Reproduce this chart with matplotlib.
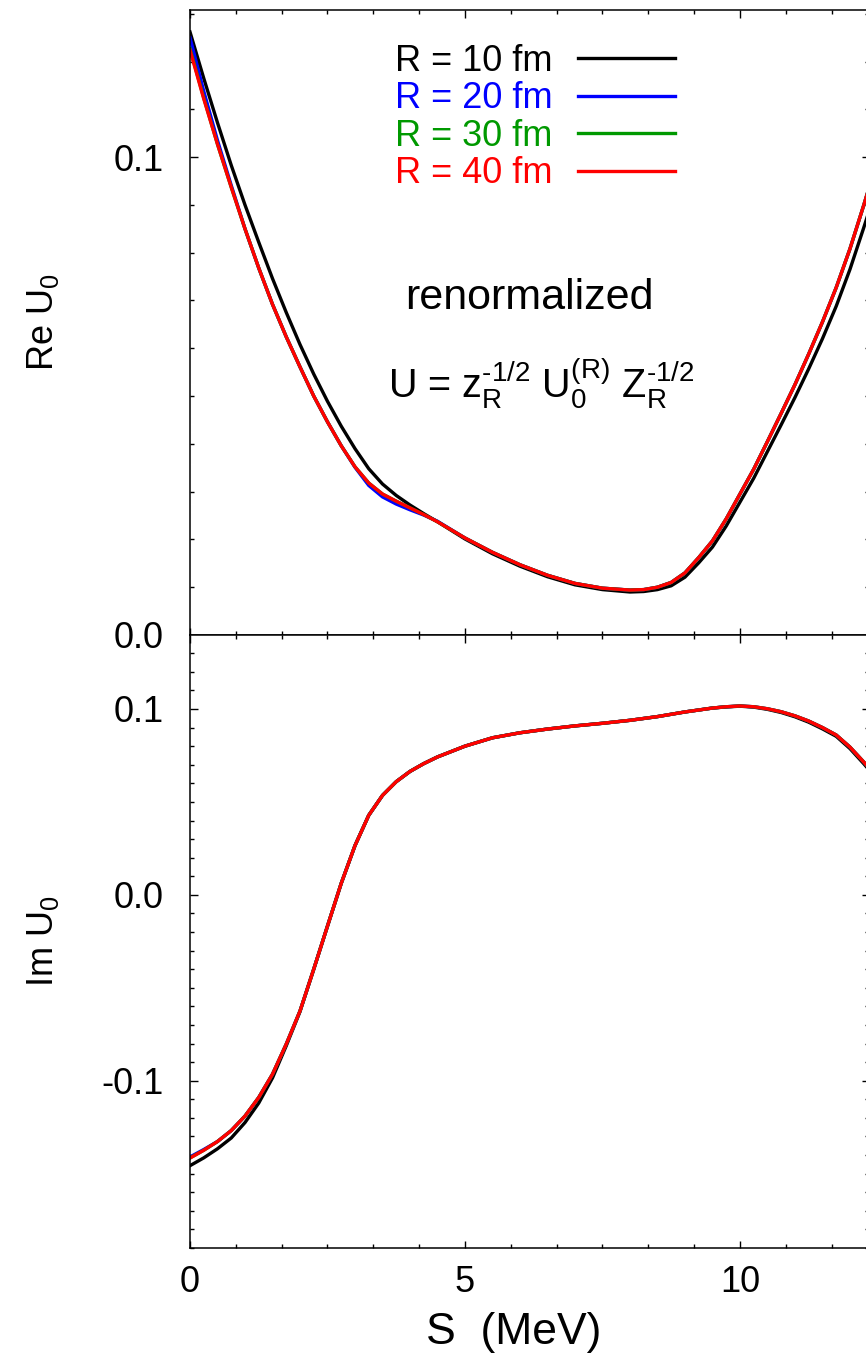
import numpy as np
import matplotlib
matplotlib.use("Agg")
import matplotlib.pyplot as plt
from matplotlib.ticker import MultipleLocator, FormatStrFormatter

plt.rcParams['font.family'] = ['Liberation Sans', 'DejaVu Sans']
plt.rcParams['mathtext.fontset'] = 'custom'
plt.rcParams['mathtext.rm'] = 'Liberation Sans'
plt.rcParams['mathtext.default'] = 'regular'
plt.rcParams['axes.unicode_minus'] = False

# S (MeV) grid of the upper panel
s_re = [0.0, 0.25, 0.5, 0.75, 1.0, 1.25, 1.5, 1.75, 2.0, 2.25, 2.5, 2.75, 3.0, 3.25,
        3.5, 3.75, 4.0, 4.25, 4.5,
        5.0, 5.5, 6.0, 6.5, 7.0, 7.5, 8.0,
        8.25, 8.5, 8.75, 9.0, 9.25, 9.5, 9.75, 10.0, 10.25, 10.5, 10.75, 11.0, 11.25,
        11.5, 11.75, 12.0, 12.25, 12.4]

re_r40 = [0.1224, 0.1122, 0.1027, 0.0937, 0.0850, 0.0768, 0.0692, 0.0624, 0.0561, 0.0500,
          0.0446, 0.0396, 0.0352, 0.0318, 0.0295, 0.0280, 0.0266, 0.0252, 0.0237,
          0.0203, 0.0173, 0.0147, 0.0125, 0.0108, 0.0098, 0.0094,
          0.0095, 0.0100, 0.0110, 0.0130, 0.0162, 0.0197, 0.0243, 0.0295, 0.0347, 0.0405,
          0.0464, 0.0524, 0.0588, 0.0655, 0.0727, 0.0808, 0.0899, 0.0956]
re_r10 = [0.1262, 0.1165, 0.1072, 0.0983, 0.0900, 0.0822, 0.0746, 0.0675, 0.0608, 0.0546,
          0.0489, 0.0437, 0.0390, 0.0348, 0.0316, 0.0292, 0.0272, 0.0254, 0.0237,
          0.0201, 0.0170, 0.0144, 0.0122, 0.0105, 0.0095, 0.0090,
          0.0091, 0.0095, 0.0103, 0.0121, 0.0151, 0.0184, 0.0228, 0.0278, 0.0328, 0.0384,
          0.0440, 0.0497, 0.0557, 0.0620, 0.0688, 0.0765, 0.0852, 0.0906]
# R = 20 and 30 fm only differ from R = 40 fm below ~4.5 MeV
re_r20 = [0.1250, 0.1138, 0.1035, 0.0941, 0.0850, 0.0768, 0.0692, 0.0624, 0.0561, 0.0500,
          0.0446, 0.0396, 0.0351, 0.0313, 0.0289, 0.0274, 0.0262, 0.0251, 0.0238] + re_r40[19:]
re_r30 = [0.1227, 0.1124] + re_r40[2:]

# S (MeV) grid of the lower panel
s_im = [0.0, 0.25, 0.5, 0.75, 1.0, 1.25, 1.5, 1.75, 2.0, 2.25, 2.5, 2.75, 3.0, 3.25, 3.5,
        3.75, 4.0, 4.25, 4.5,
        5.0, 5.5, 6.0, 6.5, 7.0, 7.5, 8.0, 8.5, 9.0, 9.5,
        9.75, 10.0, 10.25, 10.5, 10.75, 11.0, 11.25, 11.5, 11.75, 12.0, 12.25, 12.4]

im_r40 = [-0.1416, -0.1374, -0.1327, -0.1268, -0.1190, -0.1090, -0.0965, -0.0803, -0.0625,
          -0.0400, -0.0168, 0.0062, 0.0265, 0.0428, 0.0535, 0.0609, 0.0664, 0.0706, 0.0742,
          0.0800, 0.0845, 0.0872, 0.0892, 0.0909, 0.0923, 0.0939, 0.0959, 0.0984, 0.1005,
          0.1012, 0.1016, 0.1012, 0.1001, 0.0985, 0.0963, 0.0935, 0.0900, 0.0860, 0.0795,
          0.0715, 0.0665]
im_r10 = [-0.1457, -0.1415, -0.1366, -0.1308, -0.1225, -0.1120, -0.0985, -0.0812, -0.0628] \
    + im_r40[9:29] \
    + [0.1011, 0.1015, 0.1010, 0.0998, 0.0981, 0.0958, 0.0929, 0.0893, 0.0853, 0.0787,
       0.0706, 0.0655]
im_r20 = [-0.1410, -0.1370] + im_r40[2:]
im_r30 = [-0.1415] + im_r40[1:]

labels = ['R = 10 fm', 'R = 20 fm', 'R = 30 fm', 'R = 40 fm']
colors = ['black', '#0000ff', '#009900', '#ff0000']

fig = plt.figure(figsize=(8.66, 13.65), dpi=100)
# axes run a bit past the right border, as in the original
ax1 = fig.add_axes([0.2194, 0.5348, 0.7846, 0.4579])
ax2 = fig.add_axes([0.2194, 0.0857, 0.7846, 0.4491])

lw = 2.4
for ys, c, lab in zip([re_r10, re_r20, re_r30, re_r40], colors, labels):
    ax1.plot(s_re, ys, color=c, lw=lw, label=lab, solid_joinstyle='round')
for ys, c in zip([im_r10, im_r20, im_r30, im_r40], colors):
    ax2.plot(s_im, ys, color=c, lw=lw, solid_joinstyle='round')

for ax in (ax1, ax2):
    ax.set_xlim(0, 12.355)
    ax.xaxis.set_major_locator(MultipleLocator(5))
    ax.xaxis.set_minor_locator(MultipleLocator(5 / 6))
    ax.yaxis.set_major_locator(MultipleLocator(0.1))
    ax.yaxis.set_minor_locator(MultipleLocator(0.01))
    ax.yaxis.set_major_formatter(FormatStrFormatter('%.1f'))
    ax.tick_params(which='both', direction='in', top=True, right=True, width=1.0)
    ax.tick_params(which='major', length=5.4, labelsize=26)
    ax.tick_params(axis='y', which='major', pad=19)
    ax.tick_params(axis='x', which='major', pad=12)
    ax.tick_params(which='minor', length=3.2)
    for sp in ax.spines.values():
        sp.set_linewidth(1.1)

ax1.set_ylim(0, 0.1308)
ax2.set_ylim(-0.19, 0.1398)
ax1.tick_params(labelbottom=False)

ax1.set_ylabel('Re U$_0$', fontsize=26)
ax2.set_ylabel('Im U$_0$', fontsize=26)
ax1.yaxis.set_label_coords(-0.19, 0.5)
ax2.yaxis.set_label_coords(-0.19, 0.5)
ax2.set_xlabel('S  (MeV)', fontsize=32)
ax2.xaxis.set_label_coords(0.477, -0.104)

ax1.text(0.5, 0.539, 'renormalized', transform=ax1.transAxes, fontsize=31,
         ha='center', va='center')
ax1.text(0.5166, 0.379, 'U = z$_R^{\u20101/2}$ U$_0^{(R)}$ Z$_R^{\u20101/2}$',
         transform=ax1.transAxes, fontsize=28.5, ha='center', va='baseline')

ax1.legend(loc='upper right', bbox_to_anchor=(0.7138, 0.946), frameon=False,
           fontsize=26, markerfirst=False, labelcolor='linecolor',
           handlelength=2.7, handletextpad=0.7, labelspacing=0.07,
           borderpad=0, borderaxespad=0)

fig.savefig('out.png', dpi=100)
